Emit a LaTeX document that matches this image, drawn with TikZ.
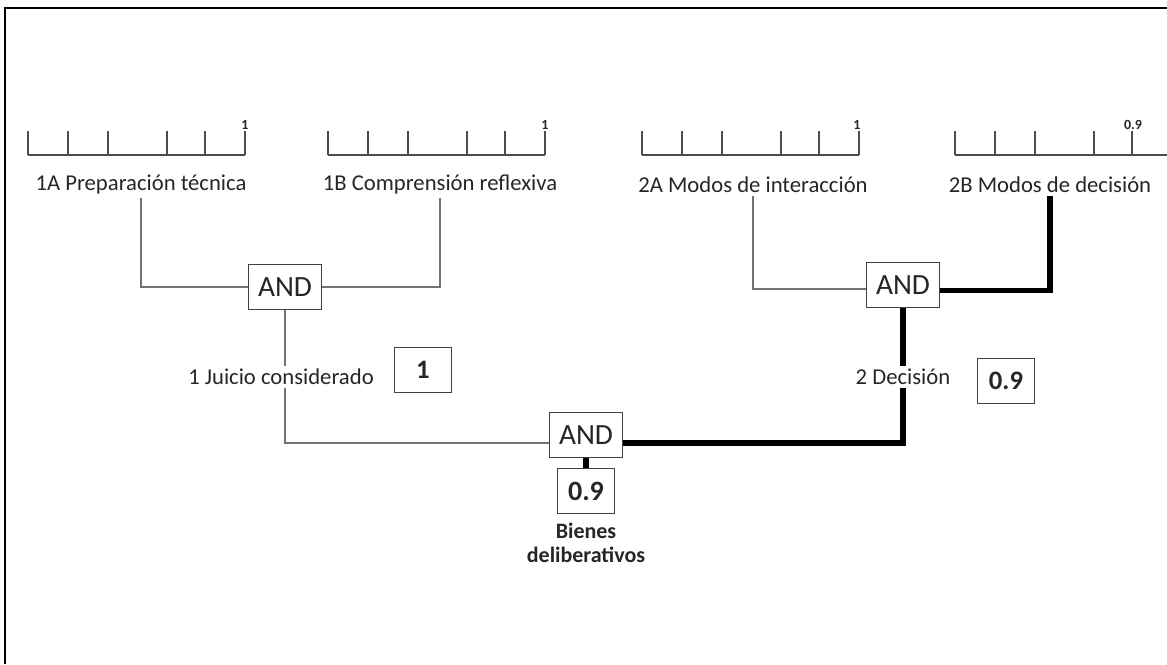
\documentclass[tikz,border=0pt]{standalone}
\usepackage{fontspec}
\setmainfont{Carlito}
\usetikzlibrary{positioning}

\begin{document}
\begin{tikzpicture}[
    x=0.75pt, y=-0.75pt,
    every node/.style={text=black!85},
    lbl/.style={font=\fontsize{17}{19}\selectfont, inner sep=2pt},
    tickval/.style={font=\fontsize{10.5}{11}\selectfont\bfseries, inner sep=1pt},
    gate/.style={draw=black!75, line width=0.9pt, fill=white, minimum width=54.75pt, minimum height=33.75pt, font=\fontsize{22}{24}\selectfont},
    val/.style={draw=black!75, line width=0.9pt, fill=white, minimum width=42.5pt, minimum height=33.5pt, font=\fontsize{20}{22}\selectfont\bfseries},
    scl/.style={draw=black!70, line width=0.8pt},
    ln/.style={draw=black!55, line width=0.8pt},
    heavy/.style={draw=black, line width=3.8pt}
]
\useasboundingbox (0,0) rectangle (1167,664);
\clip (0,0) rectangle (1167,664);
% frame (top and left edge only)
\draw[line width=1.6pt] (5,664) |- (1167,8);

% the four scales
\foreach \sx in {28,328,642,955}
  \draw[scl] (\sx,155) -- ++(217,0)
    foreach \t in {0,40,80,139,177,217} {(\sx+\t,155) -- (\sx+\t,131)};
\node[tickval, above] at (245,131) {1};
\node[tickval, above] at (545,131) {1};
\node[tickval, above] at (857,131) {1};
\node[tickval, above] at (1133,131) {0.9};

% criteria labels
\node[lbl] (p1a) at (141,185) {1A Preparación técnica};
\node[lbl] (p1b) at (440,185) {1B Comprensión reflexiva};
\node[lbl] (p2a) at (753,185) {2A Modos de interacción};
\node[lbl] (p2b) at (1050,185) {2B Modos de decisión};

% AND gates
\node[gate] (and1) at (285,287) {AND};
\node[gate] (and2) at (903,285) {AND};
\node[gate] (and3) at (586,435) {AND};

% intermediate results
\node[lbl] (juicio) at (281,377) {1 Juicio considerado};
\node[lbl] (decis) at (903,377) {2 Decisión};
\node[val] (v1) at (423,370) {1};
\node[val] (v2) at (1006,381) {0.9};
\node[val, font=\fontsize{21}{23}\selectfont\bfseries] (out) at (586,491) {0.9};
\node[align=center, font=\fontsize{16.5}{18}\selectfont\bfseries] (bienes) at (586,543) {Bienes\\deliberativos};

% connectors
\draw[ln] (p1a.south) |- (and1.west);
\draw[ln] (p1b.south) |- (and1.east);
\draw[ln] (p2a.south) |- ([yshift=-3pt]and2.west);
\draw[heavy] (p2b.south) |- ([yshift=-4pt]and2.east);
\draw[ln] (and1.south) -- (and1.south |- juicio.north);
\draw[ln] (and1.south |- juicio.south) |- ([yshift=-6pt]and3.west);
\draw[heavy] (and2.south) -- (decis.north);
\draw[heavy] (decis.south) |- ([yshift=-6pt]and3.east);
\draw[heavy] (and3.south) -- (out.north);
\end{tikzpicture}
\end{document}
